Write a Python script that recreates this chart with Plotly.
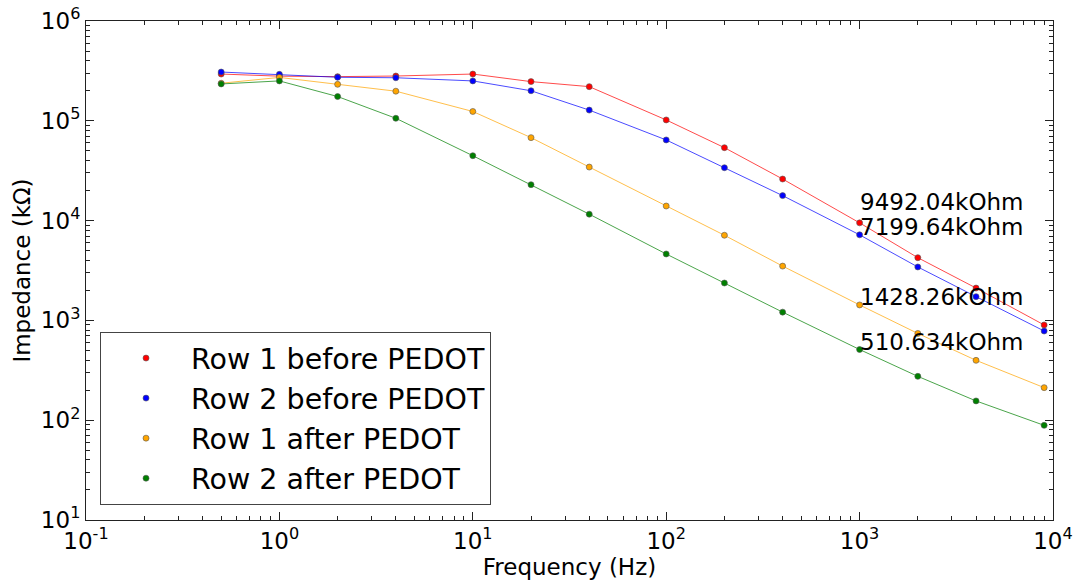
import math
import plotly.graph_objects as go

# ---- data ----
freq = [0.5, 1, 2, 4, 10, 20, 40, 100, 200, 400, 1000, 2000, 4000, 9000]
row1_before = [294000, 280000, 277000, 281000, 294000, 247000, 220000, 102000, 53800, 26100, 9492.04, 4250, 2110, 900]
row2_before = [308000, 292000, 273000, 270000, 251000, 200000, 128000, 64300, 33900, 17800, 7199.64, 3430, 1730, 783]
row1_after = [238000, 272000, 232000, 198000, 124000, 67800, 34400, 14000, 7130, 3500, 1428.26, 740, 398, 212]
row2_after = [234000, 251000, 175000, 106000, 44700, 22900, 11600, 4630, 2370, 1210, 510.634, 275, 156, 88.8]

series_names = ["Row 1 before PEDOT", "Row 2 before PEDOT", "Row 1 after PEDOT", "Row 2 after PEDOT"]
series_vals = [row1_before, row2_before, row1_after, row2_after]
series_colors = ["#ff0000", "#0000ff", "#ffa500", "#008000"]
label_freq = 1000
label_extra_shift = [13, 0, 0, 0]

x_exps = [-1, 0, 1, 2, 3, 4]
y_exps = [1, 2, 3, 4, 5, 6]

FONT = "DejaVu Sans"

def pow_label(e):
    s = str(e) if e >= 0 else "-" + str(-e)
    return "10<sup>" + s + "</sup>"

def minor_vals(lo, hi):
    out = []
    for d in range(lo, hi):
        for m in range(2, 10):
            out.append(m * 10 ** d)
    return out

fig = go.Figure()

for name, vals, col in zip(series_names, series_vals, series_colors):
    fig.add_trace(go.Scatter(
        x=freq, y=vals, mode="lines", showlegend=False,
        line=dict(color=col, width=1), opacity=0.7, hoverinfo="skip"))

for name, vals, col in zip(series_names, series_vals, series_colors):
    fig.add_trace(go.Scatter(
        x=freq, y=vals, mode="markers", name=name,
        marker=dict(color=col, size=6, line=dict(color="#555555", width=0.6))))

idx = freq.index(label_freq)
for vals, extra in zip(series_vals, label_extra_shift):
    v = vals[idx]
    fig.add_annotation(
        x=math.log10(label_freq), y=math.log10(v), xref="x", yref="y",
        text=f"{v:g}kOhm", showarrow=False, xanchor="left", yanchor="middle",
        yshift=8 + extra, xshift=-2,
        font=dict(family=FONT, size=23, color="black"))

axis_common = dict(
    type="log", showgrid=False, zeroline=False, automargin=False,
    showline=True, linecolor="#222222", linewidth=1, mirror="allticks",
    ticks="inside", ticklen=8, tickwidth=1, tickcolor="#222222",
    tickfont=dict(family=FONT, size=23, color="black"),
)

fig.update_xaxes(
    **axis_common, range=[-1, 4],
    tickmode="array", tickvals=[10 ** e for e in x_exps], ticktext=[pow_label(e) for e in x_exps],
    minor=dict(tickmode="array", tickvals=minor_vals(-1, 4), ticks="inside", ticklen=4, tickcolor="#222222"),
    title=dict(text="Frequency (Hz)", font=dict(family=FONT, size=23, color="black"), standoff=0),
)
fig.update_yaxes(
    **axis_common, range=[1, 6],
    tickmode="array", tickvals=[10 ** e for e in y_exps], ticktext=[pow_label(e) for e in y_exps],
    minor=dict(tickmode="array", tickvals=minor_vals(1, 6), ticks="inside", ticklen=4, tickcolor="#222222"),
    title=dict(text="Impedance (kΩ)", font=dict(family=FONT, size=23, color="black"), standoff=3),
)

fig.update_layout(
    width=1078, height=583,
    margin=dict(l=86, r=25, t=21, b=63),
    paper_bgcolor="white", plot_bgcolor="white",
    font=dict(family=FONT, color="black"),
    legend=dict(
        x=0.0145, y=0.03, xanchor="left", yanchor="bottom",
        bgcolor="white", bordercolor="#444444", borderwidth=1,
        font=dict(family=FONT, size=28.5, color="black"),
        itemwidth=80, tracegroupgap=0,
    ),
)

fig.write_html("out.html")
